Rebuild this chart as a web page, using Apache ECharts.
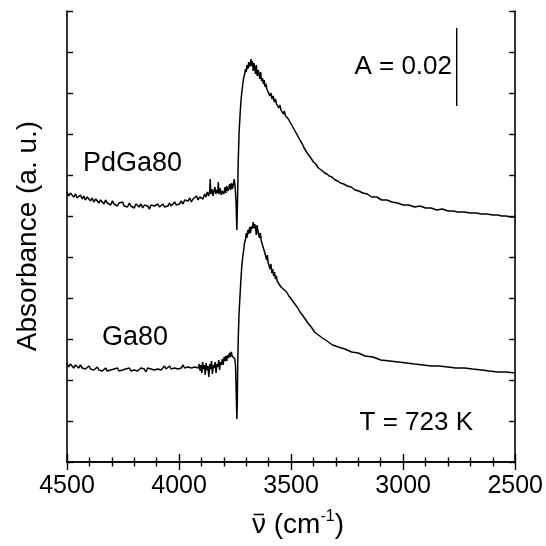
<!DOCTYPE html>
<html><head><meta charset="utf-8">
<script src="https://cdn.jsdelivr.net/npm/echarts@6/dist/echarts.min.js"></script>
<style>html,body{margin:0;padding:0;background:#fff}#c{width:546px;height:546px}</style>
</head><body><div id="c"></div>
<script>
// Wavenumber (cm-1) vs absorbance (arbitrary units, offset traces)
const pdga80 = [
[4500,270],[4492,266],[4485,269],[4478,267],[4470,265],[4462,268],[4455,264],[4448,266],[4440,267],[4432,263],
[4425,266],[4418,262],[4410,265],[4402,264],[4395,261],[4388,264],[4380,260],[4372,263],[4365,262],[4358,259],
[4350,262],[4342,261],[4335,258],[4328,262],[4320,259],[4312,260],[4305,257],[4298,261],[4290,258],[4282,259],
[4275,256],[4268,259],[4260,257],[4252,260],[4245,256],[4238,258],[4230,255],[4222,259],[4215,256],[4208,257],
[4200,254],[4192,258],[4185,256],[4178,255],[4170,258],[4162,254],[4155,257],[4148,255],[4140,256],[4132,253],
[4125,257],[4118,255],[4110,256],[4102,254],[4095,258],[4088,255],[4080,256],[4072,258],[4065,255],[4058,257],
[4050,256],[4042,259],[4035,256],[4028,258],[4020,260],[4012,257],[4005,259],[3998,258],[3990,261],[3982,258],
[3975,262],[3968,260],[3960,261],[3952,264],[3945,260],[3938,263],[3930,262],[3922,266],[3915,262],[3908,265],
[3900,267],[3893,263],[3886,268],[3880,265],[3874,270],[3868,266],[3863,271],[3861,283],[3858,268],[3853,273],
[3849,266],[3845,270],[3840,275],[3836,268],[3832,272],[3827,269],[3825,280],[3822,268],[3817,274],[3812,267],
[3808,271],[3804,273],[3800,268],[3795,275],[3791,269],[3787,276],[3782,271],[3778,274],[3774,278],[3770,272],
[3766,279],[3762,273],[3758,277],[3754,283],[3750,276],[3746,262],[3742,232],[3739,262],[3736,300],[3732,330],
[3728,346],[3724,360],[3720,370],[3716,377],[3712,384],[3708,387],[3704,393],[3700,390],[3697,397],[3693,393],
[3689,400],[3686,395],[3682,398],[3679,403],[3676,396],[3673,401],[3669,391],[3666,399],[3662,394],[3659,388],
[3655,397],[3651,386],[3647,392],[3644,389],[3640,383],[3636,390],[3632,381],[3628,384],[3624,378],[3620,382],
[3616,375],[3612,378],[3608,373],[3604,371],[3600,372],[3595,366],[3590,369],[3585,363],[3580,366],[3575,360],
[3570,363],[3565,358],[3560,360],[3555,354],[3550,357],[3545,352],[3540,353],[3535,348],[3530,351],[3525,346],
[3520,347],[3512,343],[3505,340],[3497,338],[3490,334],[3482,332],[3475,328],[3467,326],[3458,321],[3450,318],
[3442,314],[3435,312],[3428,309],[3422,307],[3412,304],[3400,300],[3390,298],[3378,294],[3365,292],[3350,289],
[3340,288],[3330,286],[3318,285],[3304,282],[3292,281],[3280,279],[3265,278],[3250,276],[3232,275],[3215,272],
[3198,271],[3180,269],[3160,268],[3140,265],[3118,265],[3096,262],[3073,262],[3050,260],[3025,259],[3000,257],
[2975,257],[2948,255],[2925,256],[2900,254],[2875,254],[2850,252],[2825,253],[2800,251],[2778,251],[2755,250],
[2728,250],[2700,249],[2675,249],[2650,248],[2625,248],[2600,247],[2578,247],[2560,246],[2540,246],[2520,245],
[2500,245]
];
const ga80 = [
[4500,99],[4492,95],[4485,98],[4478,96],[4470,94],[4462,97],[4455,95],[4448,94],[4440,97],[4432,94],
[4425,96],[4418,93],[4410,95],[4402,96],[4395,93],[4388,95],[4380,92],[4372,94],[4365,95],[4358,92],
[4350,94],[4342,91],[4335,93],[4328,94],[4320,91],[4312,93],[4305,92],[4298,90],[4290,93],[4282,92],
[4275,94],[4268,91],[4260,93],[4252,92],[4245,90],[4238,93],[4230,92],[4222,94],[4215,91],[4208,93],
[4200,92],[4192,94],[4185,91],[4178,93],[4170,94],[4162,92],[4155,93],[4148,90],[4140,94],[4132,92],
[4125,93],[4118,95],[4110,92],[4102,94],[4095,93],[4088,95],[4080,92],[4072,94],[4065,96],[4058,93],
[4050,94],[4042,96],[4035,93],[4028,95],[4020,94],[4012,96],[4005,93],[3998,95],[3990,94],[3982,97],
[3975,94],[3968,96],[3960,95],[3952,97],[3945,94],[3938,96],[3930,95],[3922,97],
[3914,94],[3910,98],[3906,91],[3902,97],[3898,89],[3895,100],[3891,93],[3887,97],[3883,87],[3879,99],
[3875,92],[3871,96],[3867,85],[3863,98],[3859,93],[3855,101],[3851,88],[3847,97],[3843,94],[3839,100],
[3835,89],[3831,98],[3827,95],[3823,102],[3819,92],[3815,100],[3811,97],[3807,103],[3803,97],[3799,105],
[3795,101],[3791,106],[3787,101],[3783,107],[3779,104],[3775,109],[3771,105],[3767,110],[3763,106],[3759,108],
[3755,104],[3751,103],[3748,96],[3745,70],[3742,43],[3740,60],[3738,100],[3735,130],[3732,150],[3728,166],
[3724,182],[3720,196],[3716,205],[3712,211],[3708,219],[3704,222],[3700,229],[3697,224],[3693,232],[3689,228],
[3685,235],[3681,229],[3677,236],[3673,233],[3669,240],[3666,234],[3662,238],[3658,236],[3655,227],[3652,237],
[3648,231],[3645,233],[3641,224],[3637,229],[3633,221],[3629,223],[3625,215],[3621,217],[3617,209],[3613,211],
[3609,202],[3606,207],[3602,199],[3598,200],[3594,193],[3590,198],[3586,189],[3582,193],[3578,186],[3574,190],
[3570,183],[3566,186],[3562,181],[3558,183],[3554,178],[3550,180],[3545,175],[3540,177],[3530,172],[3520,170],
[3510,166],[3500,163],[3490,160],[3480,157],[3470,154],[3460,150],[3450,147],[3437,143],[3425,139],[3410,135],
[3395,130],[3378,127],[3360,124],[3340,121],[3315,117],[3289,115],[3260,113],[3230,110],[3200,109],[3170,106],
[3135,105],[3100,102],[3060,101],[3022,100],[2985,99],[2950,98],[2910,97],[2874,96],[2840,96],[2800,95],
[2765,94],[2726,94],[2690,93],[2650,92],[2615,91],[2578,90],[2540,90],[2500,89]
];
const scaleBarX = 2761;
const scaleBarY = [356, 434];
const xMin = 2500, xMax = 4500, xStep = 500;
const yMin = 0, yMax = 451, yStep = 41;

const FONT = "'Liberation Sans', Arial, Helvetica, sans-serif";
const chart = echarts.init(document.getElementById('c'), null, {renderer: 'canvas'});
const axisLine = {show: true, lineStyle: {color: '#000', width: 1.6}};
const xCommon = {
  type: 'value', min: xMin, max: xMax, interval: xStep, inverse: true,
  axisLine, splitLine: {show: false},
  axisTick: {show: true, inside: true, length: 8, lineStyle: {color: '#000', width: 1.4}},
  minorTick: {show: true, splitNumber: 5, length: 4.5, lineStyle: {color: '#000', width: 1.4}},
  minorSplitLine: {show: false}
};
const yCommon = {
  type: 'value', min: yMin, max: yMax, interval: yStep,
  axisLine, splitLine: {show: false},
  axisTick: {show: true, inside: true, length: 6, lineStyle: {color: '#000', width: 1.4}},
  axisLabel: {show: false}
};
chart.setOption({
  animation: false,
  backgroundColor: '#fff',
  grid: {left: 67, right: 29, top: 11, bottom: 84},
  xAxis: [
    Object.assign({}, xCommon, {position: 'bottom',
      axisLabel: {show: true, margin: 12, color: '#000', fontSize: 25, fontFamily: FONT, formatter: v => String(v)}}),
    Object.assign({}, xCommon, {position: 'top', axisLabel: {show: false}})
  ],
  yAxis: [
    Object.assign({}, yCommon, {position: 'left'}),
    Object.assign({}, yCommon, {position: 'right'})
  ],
  series: [
    {type: 'line', data: pdga80, showSymbol: false, lineStyle: {color: '#000', width: 1.5}, z: 3},
    {type: 'line', data: ga80, showSymbol: false, lineStyle: {color: '#000', width: 1.5}, z: 3},
    {type: 'line', data: scaleBarY.map(v => [scaleBarX, v]), showSymbol: false, lineStyle: {color: '#000', width: 1.4}}
  ],
  graphic: [
    {type: 'text', x: 83, y: 164, style: {text: 'PdGa80', fontSize: 27, fontFamily: FONT, fill: '#000', align: 'left', verticalAlign: 'middle', textAlign: 'left', textVerticalAlign: 'middle'}},
    {type: 'text', x: 102, y: 338, style: {text: 'Ga80', fontSize: 27, fontFamily: FONT, fill: '#000', align: 'left', verticalAlign: 'middle', textAlign: 'left', textVerticalAlign: 'middle'}},
    {type: 'text', x: 452, y: 67, style: {text: 'A = 0.02', fontSize: 26, fontFamily: FONT, fill: '#000', align: 'right', verticalAlign: 'middle', textAlign: 'right', textVerticalAlign: 'middle'}},
    {type: 'text', x: 473, y: 423, style: {text: 'T = 723 K', fontSize: 26, fontFamily: FONT, fill: '#000', align: 'right', verticalAlign: 'middle', textAlign: 'right', textVerticalAlign: 'middle'}},
    {type: 'text', x: 28, y: 236, rotation: Math.PI / 2, style: {text: 'Absorbance (a. u.)', fontSize: 28, fontFamily: FONT, fill: '#000', align: 'center', verticalAlign: 'middle', textAlign: 'center', textVerticalAlign: 'middle'}},
    {type: 'text', x: 252, y: 525, style: {
      text: '{a|ν (cm}{s|-1}{a|)}', fontFamily: FONT, fill: '#000', align: 'left', verticalAlign: 'middle', textAlign: 'left', textVerticalAlign: 'middle',
      rich: {
        a: {fontSize: 28, fontFamily: FONT, fill: '#000', color: '#000'},
        s: {fontSize: 16, fontFamily: FONT, fill: '#000', color: '#000', verticalAlign: 'top', padding: [0, 0, 16, 0]}}
    }},
    {type: 'line', shape: {x1: 253.5, y1: 514.5, x2: 264, y2: 514.5}, style: {stroke: '#000', lineWidth: 1.6}}
  ]
});
</script></body></html>
